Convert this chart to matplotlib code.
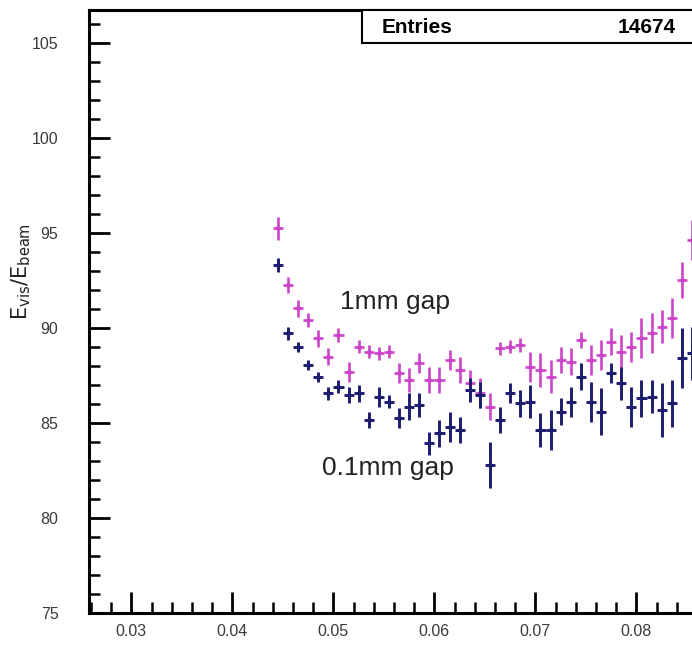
import matplotlib
matplotlib.use("Agg")
import matplotlib.pyplot as plt
import numpy as np
from matplotlib.ticker import MultipleLocator, FixedLocator
from matplotlib.patches import Rectangle

plt.rcParams['font.family'] = ['Liberation Sans', 'DejaVu Sans']

# ---- data ----
bin_width = 0.001
x_first = 0.0445
gap1mm = [95.25, 92.26, 91.04, 90.42, 89.46, 88.49, 89.63, 87.70, 89.02, 88.75,
          88.67, 88.75, 87.61, 87.26, 88.14, 87.26, 87.26, 88.32, 87.79, 87.09,
          86.56, 85.86, 88.93, 89.02, 89.11, 87.96, 87.79, 87.44, 88.32, 88.23,
          89.37, 88.32, 88.58, 89.28, 88.75, 89.02, 89.46, 89.72, 90.07, 90.51,
          92.53, 94.63]
gap1mm_err = [0.60, 0.44, 0.44, 0.35, 0.44, 0.44, 0.35, 0.53, 0.35, 0.35,
              0.35, 0.35, 0.53, 0.61, 0.53, 0.70, 0.70, 0.53, 0.70, 0.70,
              0.79, 0.70, 0.35, 0.35, 0.35, 0.79, 0.88, 0.88, 0.70, 0.70,
              0.44, 0.79, 0.79, 0.70, 0.88, 0.79, 1.05, 1.05, 0.88, 1.05,
              0.96, 1.05]
gap01mm = [93.32, 89.72, 89.02, 88.05, 87.44, 86.56, 86.91, 86.47, 86.56, 85.16,
           86.39, 86.12, 85.25, 85.86, 85.95, 83.93, 84.46, 84.81, 84.63, 86.74,
           86.47, 82.79, 85.16, 86.56, 86.04, 86.12, 84.63, 84.63, 85.60, 86.12,
           87.44, 86.12, 85.60, 87.61, 87.09, 85.86, 86.30, 86.39, 85.68, 86.04,
           88.40, 88.67]
gap01mm_err = [0.35, 0.35, 0.26, 0.26, 0.26, 0.35, 0.35, 0.44, 0.44, 0.44,
               0.53, 0.35, 0.53, 0.70, 0.61, 0.61, 0.70, 0.79, 0.70, 0.61,
               0.70, 1.23, 0.70, 0.53, 0.70, 0.88, 0.88, 1.05, 0.70, 0.79,
               0.70, 1.05, 1.23, 0.53, 0.88, 1.05, 0.96, 0.88, 1.40, 1.23,
               1.58, 1.40]
y_ticks = [75, 80, 85, 90, 95, 100, 105]
y_ticklabels = ["75", "80", "85", "90", "95", "100", "105"]
x_ticks = [0.03, 0.04, 0.05, 0.06, 0.07, 0.08]
x_ticklabels = ["0.03", "0.04", "0.05", "0.06", "0.07", "0.08"]
entries = "14674"

x = x_first + bin_width * np.arange(len(gap1mm))

W, H = 692, 650
fig = plt.figure(figsize=(W / 100, H / 100), dpi=100)

# axes geometry in pixels (frame extends past the right edge, cropped like the reference)
left_px, right_px, top_px, bot_px = 89, 840, 10, 613
xmin = 0.0258
px_per_x = 10100.0
ymin = 75.0
px_per_y = 19.0
ax = fig.add_axes([left_px / W, 1 - bot_px / H, (right_px - left_px) / W, (bot_px - top_px) / H])
ax.set_xlim(xmin, xmin + (right_px - left_px) / px_per_x)
ax.set_ylim(ymin, ymin + (bot_px - top_px) / px_per_y)

pink = '#cc44c8'
navy = '#1c1c6e'
ax.errorbar(x, gap1mm, yerr=gap1mm_err, xerr=bin_width / 2, fmt='o', ms=2.5,
            color=pink, ecolor=pink, elinewidth=1.9, capsize=0, zorder=3)
ax.errorbar(x, gap01mm, yerr=gap01mm_err, xerr=bin_width / 2, fmt='o', ms=2.5,
            color=navy, ecolor=navy, elinewidth=2.1, capsize=0, zorder=4)

for s in ['left', 'bottom', 'top', 'right']:
    ax.spines[s].set_linewidth(2.2)
    ax.spines[s].set_color('black')

ax.yaxis.set_major_locator(FixedLocator(y_ticks))
ax.set_yticklabels(y_ticklabels)
ax.yaxis.set_minor_locator(MultipleLocator(1))
ax.xaxis.set_major_locator(FixedLocator(x_ticks))
ax.set_xticklabels(x_ticklabels)
ax.xaxis.set_minor_locator(MultipleLocator(0.002))
ax.tick_params(axis='both', which='major', direction='in', length=15, width=2.0,
               labelsize=11.5, colors='black', labelcolor='#3a3a3a')
ax.tick_params(axis='both', which='minor', direction='in', length=8, width=1.8)
ax.tick_params(axis='y', which='major', pad=22)
ax.tick_params(axis='x', which='major', pad=8)
ax.tick_params(top=False, right=False, which='both')

fig.text(21 / W, 1 - 272 / H, r'$\mathrm{E_{vis}/E_{beam}}$', rotation=90,
         ha='center', va='center', fontsize=15, color='#222222')

fig.text(340 / W, 1 - 309 / H, '1mm gap', fontsize=19, ha='left', va='baseline',
         color='#222222')
fig.text(322 / W, 1 - 475 / H, '0.1mm gap', fontsize=19, ha='left', va='baseline',
         color='#222222')

# statistics box (cropped at the right edge)
box = Rectangle((362 / W, 1 - 43 / H), 0.6, 33 / H, transform=fig.transFigure,
                facecolor='white', edgecolor='black', linewidth=1.5, zorder=10)
fig.patches.append(box)
fig.text(382 / W, 1 - 33 / H, 'Entries', fontsize=15, ha='left', va='baseline',
         zorder=11, fontweight='bold')
fig.text(676 / W, 1 - 33 / H, entries, fontsize=15, ha='right', va='baseline',
         zorder=11, fontweight='bold')

fig.savefig('out.png', dpi=100)
